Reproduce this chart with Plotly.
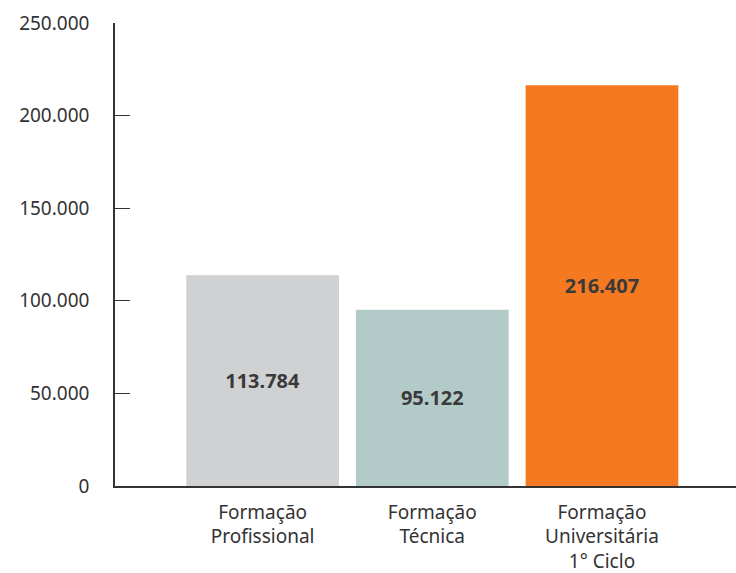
import plotly.graph_objects as go

categories = ["Formação<br>Profissional", "Formação<br>Técnica", "Formação<br>Universitária<br>1° Ciclo"]
values = [113784, 95122, 216407]
value_labels = ["113.784", "95.122", "216.407"]
bar_colors = ["#d0d1d3", "#b3cbc8", "#f47920"]

tick_vals = [0, 50000, 100000, 150000, 200000, 250000]
tick_text = ["0", "50.000", "100.000", "150.000", "200.000", "250.000"]

fig = go.Figure(
    go.Bar(
        x=list(range(len(categories))),
        y=values,
        marker=dict(color=bar_colors, line=dict(width=0)),
        width=0.9,
        text=value_labels,
        textposition="inside",
        insidetextanchor="middle",
        textangle=0,
        textfont=dict(family="Noto Sans", size=20, color="#3a3a3a", weight="bold"),
        hoverinfo="skip",
    )
)

fig.update_layout(
    width=736,
    height=573,
    margin=dict(l=115, r=0, t=23, b=87),
    paper_bgcolor="white",
    plot_bgcolor="white",
    showlegend=False,
    font=dict(family="Noto Sans", size=19, color="#333333"),
    uniformtext=dict(mode=False),
)

fig.update_xaxes(
    range=[-0.87, 2.79],
    tickvals=list(range(len(categories))),
    ticktext=categories,
    showline=True,
    linecolor="#333333",
    linewidth=1.5,
    ticks="",
    showgrid=False,
    zeroline=False,
    tickfont=dict(size=19, color="#333333"),
    ticklabelstandoff=8,
)

fig.update_yaxes(
    range=[0, 250000],
    tickvals=tick_vals,
    ticktext=tick_text,
    showline=True,
    linecolor="#333333",
    linewidth=1.5,
    ticks="inside",
    ticklen=15,
    tickcolor="#333333",
    tickwidth=1,
    showgrid=False,
    zeroline=False,
    tickfont=dict(size=19, color="#333333"),
    ticklabelstandoff=20,
)

fig.write_html("out.html")
